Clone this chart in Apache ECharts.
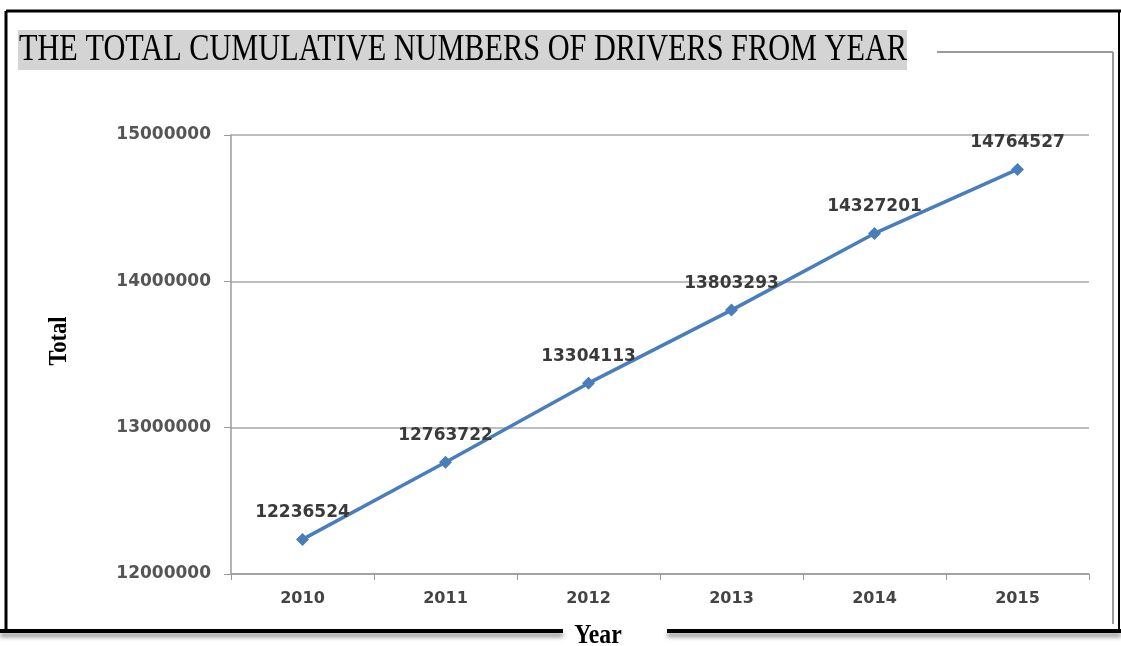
<!DOCTYPE html>
<html lang="en">
<head>
    <meta charset="UTF-8">
    <title>Total cumulative numbers of drivers</title>
    <style>
        html, body {
            margin: 0;
            padding: 0;
            background: #fff;
        }
        #chart {
            width: 1121px;
            height: 646px;
        }
    </style>
</head>
<body>
<div id="chart"></div>
<script src="https://cdn.jsdelivr.net/npm/echarts@6/dist/echarts.min.js"></script>
<script>
    let years = ['2010', '2011', '2012', '2013', '2014', '2015'];
    let totals = [12236524, 12763722, 13304113, 13803293, 14327201, 14764527];
    let yTicks = [12000000, 13000000, 14000000, 15000000];

    let chart = echarts.init(document.getElementById('chart'));
    let option = {
        backgroundColor: '#fff',
        animation: false,
        grid: {
            left: 231,
            right: 32,
            top: 135,
            bottom: 72
        },
        xAxis: {
            type: 'category',
            data: years,
            boundaryGap: true,
            axisLine: {lineStyle: {color: '#9a9a9a', width: 1.5}},
            axisTick: {show: true, length: 6, lineStyle: {color: '#9a9a9a'}},
            axisLabel: {
                margin: 17,
                color: '#444',
                fontFamily: 'DejaVu Sans',
                fontWeight: 'bold',
                fontSize: 16
            }
        },
        yAxis: {
            type: 'value',
            min: yTicks[0],
            max: yTicks[yTicks.length - 1],
            interval: 1000000,
            axisLine: {show: true, lineStyle: {color: '#9a9a9a', width: 1.5}},
            axisTick: {show: true, length: 7, lineStyle: {color: '#9a9a9a'}},
            splitLine: {lineStyle: {color: '#a8a8a8', width: 1.5}},
            axisLabel: {
                margin: 20,
                color: '#555',
                fontFamily: 'DejaVu Sans',
                fontWeight: 'bold',
                fontSize: 17,
                formatter: function (v) {
                    return String(v);
                }
            }
        },
        series: [{
            type: 'line',
            data: totals,
            symbol: 'diamond',
            symbolSize: 13,
            itemStyle: {color: '#4a7ebb'},
            lineStyle: {color: '#4a7ebb', width: 3.5},
            label: {
                show: true,
                position: 'top',
                distance: 12,
                color: '#3a3a3a',
                fontFamily: 'DejaVu Sans',
                fontWeight: 'bold',
                fontSize: 17
            }
        }],
        graphic: [
            // outer frame
            {type: 'line', shape: {x1: 6, y1: 11, x2: 1121, y2: 11}, style: {stroke: '#000', lineWidth: 3}},
            {type: 'line', shape: {x1: 6, y1: 11, x2: 6, y2: 632}, style: {stroke: '#000', lineWidth: 3}},
            {type: 'line', shape: {x1: 1119, y1: 11, x2: 1119, y2: 632}, style: {stroke: '#000', lineWidth: 2}},
            {
                type: 'line', shape: {x1: 0, y1: 631, x2: 563, y2: 631},
                style: {stroke: '#000', lineWidth: 4, shadowColor: 'rgba(0,0,0,0.45)', shadowBlur: 4, shadowOffsetY: 4}
            },
            {
                type: 'line', shape: {x1: 667, y1: 631, x2: 1121, y2: 631},
                style: {stroke: '#000', lineWidth: 4, shadowColor: 'rgba(0,0,0,0.45)', shadowBlur: 4, shadowOffsetY: 4}
            },
            // inner gray frame
            {type: 'line', shape: {x1: 937, y1: 52, x2: 1113, y2: 52}, style: {stroke: '#9a9a9a', lineWidth: 2}},
            {type: 'line', shape: {x1: 1113, y1: 52, x2: 1113, y2: 624}, style: {stroke: '#9a9a9a', lineWidth: 2}},
            // title
            {type: 'rect', shape: {x: 18, y: 30, width: 889, height: 40}, style: {fill: '#d4d4d4'}},
            {
                type: 'text', x: 19, y: 50, scaleX: 0.797,
                style: {
                    text: 'THE TOTAL CUMULATIVE NUMBERS OF DRIVERS FROM YEAR',
                    fill: '#000', font: '38px "Liberation Serif"',
                    verticalAlign: 'middle', align: 'left'
                }
            },
            // axis names
            {
                type: 'text', x: 60, y: 341, rotation: Math.PI / 2, scaleX: 0.9,
                style: {
                    text: 'Total', fill: '#000', font: 'bold 25px "Liberation Serif"',
                    align: 'center', verticalAlign: 'middle'
                }
            },
            {
                type: 'text', x: 598, y: 636, scaleX: 0.85,
                style: {
                    text: 'Year', fill: '#000', font: 'bold 28px "Liberation Serif"',
                    align: 'center', verticalAlign: 'middle'
                }
            }
        ]
    };
    chart.setOption(option);
</script>
</body>
</html>
